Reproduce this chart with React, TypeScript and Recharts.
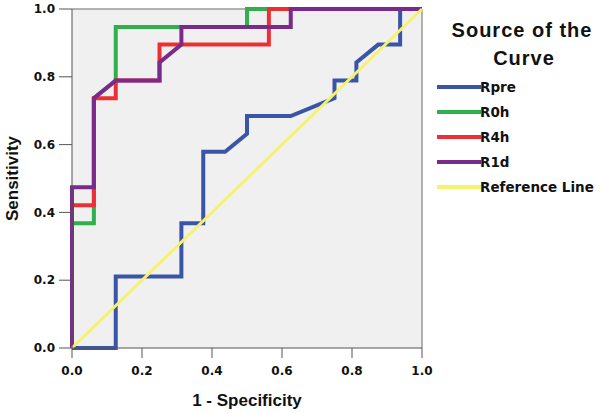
import React from 'react';
import { LineChart, Line, XAxis, YAxis, CartesianGrid, ReferenceLine } from 'recharts';

// ROC coordinates (1 - specificity, sensitivity)
const rpreFpr = [0, 0.125, 0.125, 0.3125, 0.3125, 0.375, 0.375, 0.4375, 0.5, 0.5, 0.625, 0.75, 0.75, 0.8125, 0.8125, 0.875, 0.9375, 0.9375, 1];
const rpreTpr = [0, 0, 0.211, 0.211, 0.368, 0.368, 0.579, 0.579, 0.632, 0.684, 0.684, 0.737, 0.789, 0.789, 0.842, 0.895, 0.895, 1, 1];

const r0hFpr = [0, 0, 0.0625, 0.0625, 0.125, 0.125, 0.5, 0.5, 1];
const r0hTpr = [0, 0.368, 0.368, 0.737, 0.789, 0.947, 0.947, 1, 1];

const r4hFpr = [0, 0, 0.0625, 0.0625, 0.125, 0.125, 0.25, 0.25, 0.5625, 0.5625, 1];
const r4hTpr = [0, 0.421, 0.421, 0.737, 0.737, 0.789, 0.789, 0.895, 0.895, 1, 1];

const r1dFpr = [0, 0, 0.0625, 0.0625, 0.125, 0.25, 0.25, 0.3125, 0.3125, 0.625, 0.625, 1];
const r1dTpr = [0, 0.474, 0.474, 0.737, 0.789, 0.789, 0.842, 0.895, 0.947, 0.947, 1, 1];

const refFpr = [0, 1];
const refTpr = [0, 1];

const seriesNames = ['Rpre', 'R0h', 'R4h', 'R1d', 'Reference Line'];
const seriesColors = ['#3a55a6', '#2fb04a', '#ec2f35', '#7a2a8a', '#f7f26c'];
const axisTicks = [0, 0.2, 0.4, 0.6, 0.8, 1];

const toPoints = (xs: number[], ys: number[]) => xs.map((x, i) => ({ x, y: ys[i] }));

const series = [
  toPoints(rpreFpr, rpreTpr),
  toPoints(r0hFpr, r0hTpr),
  toPoints(r4hFpr, r4hTpr),
  toPoints(r1dFpr, r1dTpr),
  toPoints(refFpr, refTpr),
];

const tickStyle = { fill: '#111', fontSize: 12, fontWeight: 700, fontFamily: 'DejaVu Sans' };
const titleFont = 'Liberation Sans, Arial, sans-serif';

export default function App() {
  return (
    <div style={{ position: 'absolute', left: 0, top: 0, width: 600, height: 413, background: '#fff' }}>
      <LineChart width={600} height={413} data={series[0]} margin={{ top: 9, right: 178, left: 0, bottom: 0 }}>
        <CartesianGrid horizontal={false} vertical={false} fill="#f0f0f0" />
        <ReferenceLine y={1} stroke="#9a9a9a" strokeWidth={1.5} />
        <ReferenceLine x={1} stroke="#9a9a9a" strokeWidth={1.5} />
        <XAxis
          dataKey="x"
          type="number"
          domain={[0, 1]}
          ticks={axisTicks}
          tickFormatter={(v: number) => v.toFixed(1)}
          height={65}
          tickSize={10}
          tickMargin={8}
          stroke="#555"
          tick={tickStyle}
          label={{ value: '1 - Specificity', position: 'center', dy: 19, fill: '#111', fontSize: 17, fontWeight: 700, fontFamily: titleFont }}
        />
        <YAxis
          dataKey="y"
          type="number"
          domain={[0, 1]}
          ticks={axisTicks}
          tickFormatter={(v: number) => v.toFixed(1)}
          width={72}
          tickSize={13}
          tickMargin={4}
          stroke="#555"
          tick={tickStyle}
          label={{ value: 'Sensitivity', angle: -90, position: 'center', dx: -24, fill: '#111', fontSize: 17, fontWeight: 700, fontFamily: titleFont }}
        />
        {series.map((pts, i) => (
          <Line
            key={seriesNames[i]}
            data={pts}
            dataKey="y"
            type="linear"
            stroke={seriesColors[i]}
            strokeWidth={i === 4 ? 3 : 4}
            dot={false}
            activeDot={false}
            isAnimationActive={false}
            strokeLinejoin="miter"
          />
        ))}
      </LineChart>
      <svg width={178} height={220} style={{ position: 'absolute', left: 422, top: 0 }}>
        <text x={100} y={37} textAnchor="middle" fontFamily={titleFont} fontWeight={700} fontSize={20} letterSpacing={1} fill="#111">
          Source of the
        </text>
        <text x={102} y={65} textAnchor="middle" fontFamily={titleFont} fontWeight={700} fontSize={20} letterSpacing={1} fill="#111">
          Curve
        </text>
        {seriesNames.map((name, i) => (
          <g key={name} transform={`translate(0, ${87 + i * 25})`}>
            <line x1={15} x2={59} y1={0} y2={0} stroke={seriesColors[i]} strokeWidth={4} />
            <text x={58} y={5} fontFamily="DejaVu Sans" fontWeight={700} fontSize={13.5} fill="#111">
              {name}
            </text>
          </g>
        ))}
      </svg>
    </div>
  );
}
